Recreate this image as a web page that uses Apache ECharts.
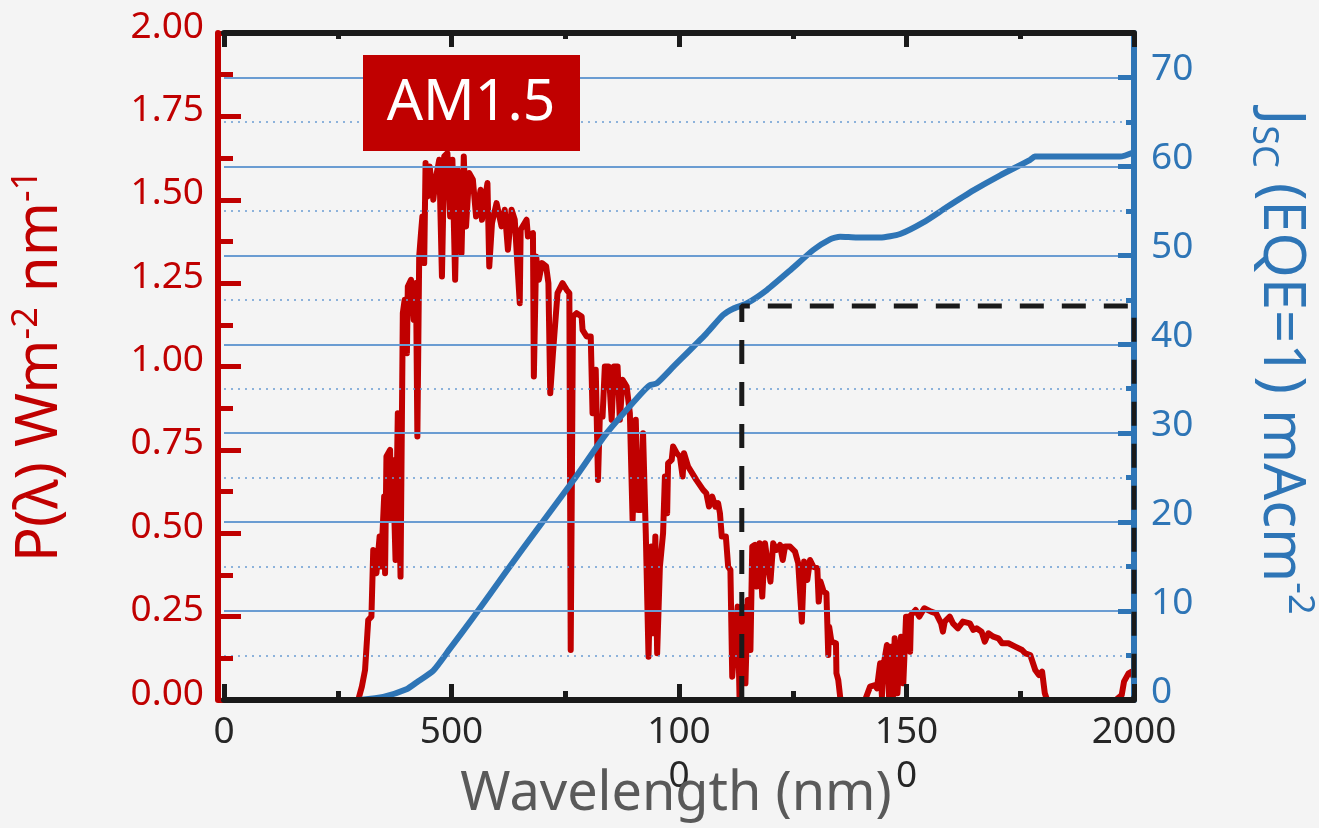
<!DOCTYPE html>
<html>
<head>
<meta charset="utf-8">
<script src="https://cdn.jsdelivr.net/npm/echarts@6/dist/echarts.min.js"></script>
<style>
  html, body { margin: 0; padding: 0; background: #f4f4f4; }
  #chart { width: 1319px; height: 828px; }
</style>
</head>
<body>
<div id="chart"></div>
<script>
// AM1.5 spectral irradiance P(λ)
const wavelength = [
  295, 303, 310, 317, 324, 328, 335, 342, 345, 352, 354, 357, 365, 368, 371, 377, 382, 388, 393, 397,
  402, 404, 411, 417, 422, 425, 429, 433, 436, 440, 443, 447, 452, 460, 465, 473, 479, 484, 491, 497,
  502, 508, 513, 517, 522, 527, 532, 539, 547, 554, 564, 567, 579, 583, 589, 599, 610, 617, 624, 632,
  639, 650, 652, 665, 668, 679, 681, 686, 692, 699, 708, 713, 717, 723, 733, 744, 753, 759, 762, 767,
  775, 786, 788, 797, 806, 810, 817, 822, 826, 832, 837, 845, 852, 857, 865, 870, 876, 885, 892, 898,
  905, 910, 916, 921, 927, 933, 939, 943, 948, 952, 958, 965, 969, 974, 976, 984, 987, 995, 1002, 1008,
  1011, 1020, 1038, 1053, 1060, 1066, 1073, 1080, 1086, 1090, 1094, 1103, 1108, 1113, 1117, 1124, 1129, 1133, 1139, 1146,
  1151, 1157, 1161, 1167, 1171, 1177, 1183, 1189, 1194, 1201, 1207, 1214, 1222, 1228, 1233, 1244, 1255, 1262, 1270, 1275,
  1282, 1288, 1295, 1304, 1307, 1311, 1318, 1324, 1328, 1330, 1335, 1345, 1346, 1350, 1355, 1409, 1420, 1431, 1435, 1442,
  1446, 1449, 1457, 1462, 1466, 1470, 1474, 1480, 1488, 1493, 1499, 1504, 1508, 1510, 1520, 1528, 1539, 1554, 1565, 1576,
  1580, 1584, 1595, 1602, 1613, 1624, 1639, 1647, 1654, 1665, 1672, 1680, 1691, 1702, 1710, 1724, 1739, 1754, 1761, 1772,
  1783, 1791, 1798, 1804, 1809, 1960, 1973, 1978, 1988, 1995, 2000
]
const irradiance = [
  0, 0.04, 0.09, 0.24, 0.25, 0.45, 0.38, 0.49, 0.40, 0.61, 0.38, 0.73, 0.75, 0.54, 0.72, 0.42, 0.86, 0.37, 1.16, 1.20,
  1.04, 1.24, 1.26, 1.14, 1.25, 0.79, 1.33, 1.40, 1.45, 1.31, 1.61, 1.51, 1.60, 1.50, 1.56, 1.62, 1.27, 1.63, 1.64, 1.45,
  1.62, 1.26, 1.59, 1.43, 1.34, 1.63, 1.42, 1.58, 1.56, 1.45, 1.53, 1.44, 1.55, 1.30, 1.43, 1.49, 1.42, 1.47, 1.35, 1.47,
  1.44, 1.19, 1.41, 1.44, 1.39, 1.40, 0.97, 1.33, 1.26, 1.31, 1.30, 1.25, 0.92, 1.04, 1.22, 1.25, 1.23, 1.22, 0.15, 1.15,
  1.16, 1.15, 1.11, 1.09, 1.09, 0.86, 0.99, 0.66, 0.85, 0.85, 1.00, 1.00, 0.84, 1.00, 1.00, 0.84, 0.96, 0.94, 0.86, 0.54,
  0.84, 0.57, 0.57, 0.80, 0.50, 0.13, 0.46, 0.20, 0.49, 0.14, 0.40, 0.50, 0.67, 0.56, 0.71, 0.72, 0.76, 0.74, 0.73, 0.67,
  0.74, 0.70, 0.66, 0.63, 0.62, 0.58, 0.61, 0.58, 0.59, 0.56, 0.49, 0.49, 0.40, 0.39, 0.07, 0.20, 0.28, 0.01, 0.28, 0.05,
  0.30, 0.15, 0.46, 0.465, 0.34, 0.47, 0.31, 0.47, 0.42, 0.355, 0.47, 0.45, 0.465, 0.42, 0.46, 0.46, 0.445, 0.41, 0.235, 0.415,
  0.36, 0.42, 0.40, 0.395, 0.295, 0.355, 0.325, 0.32, 0.135, 0.22, 0.175, 0.17, 0.08, 0.06, 0, 0, 0.04, 0.045, 0.035, 0.11,
  0.01, 0.10, 0.165, 0, 0.16, 0, 0.185, 0.02, 0.19, 0.05, 0.25, 0.25, 0.145, 0.255, 0.27, 0.25, 0.275, 0.265, 0.26, 0.23,
  0.205, 0.235, 0.25, 0.23, 0.215, 0.235, 0.23, 0.21, 0.215, 0.205, 0.175, 0.2, 0.19, 0.185, 0.17, 0.17, 0.16, 0.15, 0.14, 0.135,
  0.09, 0.075, 0.085, 0.02, 0, 0, 0.015, 0.055, 0.08, 0.085, 0.065
]

// integrated Jsc for EQE=1 (mA/cm2)
const jscWavelength = [299, 350, 401, 424, 460, 497, 548, 621, 694, 768, 841, 914, 936, 951, 987, 1060, 1097, 1119, 1149, 1193,
  1244, 1295, 1332, 1354, 1391, 1442, 1486, 1537, 1588, 1647, 1706, 1771, 1782, 1830, 1969, 2000]
const jscValues = [0, 0.35, 1.2, 2.0, 3.3, 5.8, 9.3, 14.5, 19.6, 24.7, 30.0, 34.3, 35.4, 35.6, 37.45, 41.2, 43.3, 44.0, 44.6, 46.1,
  48.3, 50.6, 51.8, 52.1, 52.0, 52.0, 52.4, 53.7, 55.4, 57.3, 59.0, 60.7, 61.1, 61.1, 61.1, 61.6]

// dashed box: Jsc available above the ~1130 nm edge
const boxWavelength = [1138, 1138, 2000, 2000, 1138]
const boxJsc = [0, 44.3, 44.3, 0, 0]

const xTicks = [0, 500, 1000, 1500, 2000]
const xTickLabels = ['0', '500', '100\n0', '150\n0', '2000']

const RED = '#C00000'
const BLUE = '#2E75B6'
const GRIDBLUE = '#6A9CD2'
const BLACK = '#1a1a1a'
const FONT = 'Noto Sans'

const chart = echarts.init(document.getElementById('chart'))

const xAxisBase = {
  type: 'value',
  min: 0,
  max: 2000,
  interval: 500,
  z: 5,
  splitLine: { show: false }
}

const option = {
  backgroundColor: '#F4F4F4',
  animation: false,
  grid: { left: 224, right: 185, top: 33, bottom: 128, outerBoundsMode: 'none' },
  xAxis: [
    {
      ...xAxisBase,
      position: 'bottom',
      axisLine: { show: true, onZero: false, lineStyle: { color: BLACK, width: 6 } },
      axisTick: { show: true, inside: true, length: 16, lineStyle: { color: BLACK, width: 5 } },
      minorTick: { show: true, splitNumber: 2, length: 9, lineStyle: { color: BLACK, width: 5 } },
      axisLabel: {
        margin: 10,
        fontFamily: FONT,
        fontSize: 37,
        lineHeight: 44,
        color: '#262626',
        formatter: v => xTickLabels[xTicks.indexOf(v)]
      }
    },
    {
      ...xAxisBase,
      position: 'top',
      axisLine: { show: true, onZero: false, lineStyle: { color: BLACK, width: 6 } },
      axisTick: { show: true, inside: true, length: 14, lineStyle: { color: BLACK, width: 5 } },
      minorTick: { show: true, splitNumber: 2, length: 6, lineStyle: { color: BLACK, width: 5 } },
      axisLabel: { show: false }
    }
  ],
  yAxis: [
    {
      type: 'value',
      position: 'left',
      offset: 6,
      min: 0,
      max: 2,
      interval: 0.25,
      z: 4,
      axisLine: { show: true, onZero: false, lineStyle: { color: RED, width: 6 } },
      axisTick: { show: true, inside: true, length: 23, lineStyle: { color: RED, width: 5 } },
      minorTick: { show: true, splitNumber: 2, length: 15, lineStyle: { color: RED, width: 5 } },
      splitLine: { show: false },
      axisLabel: {
        margin: 14,
        fontFamily: FONT,
        fontSize: 37,
        color: RED,
        verticalAlign: 'bottom',
        lineHeight: 12,
        formatter: v => v.toFixed(2)
      }
    },
    {
      type: 'value',
      position: 'right',
      min: 0,
      max: 75,
      interval: 10,
      z: 4,
      axisLine: { show: true, onZero: false, lineStyle: { color: BLUE, width: 6 } },
      axisTick: { show: true, inside: true, length: 16, lineStyle: { color: BLUE, width: 5 } },
      minorTick: { show: true, splitNumber: 2, length: 8, lineStyle: { color: BLUE, width: 5 } },
      splitLine: { show: true, lineStyle: { color: GRIDBLUE, width: 2 } },
      minorSplitLine: { show: true, lineStyle: { color: GRIDBLUE, width: 1.5, type: [2, 5] } },
      axisLabel: {
        margin: 17,
        fontFamily: FONT,
        fontSize: 37,
        color: BLUE,
        verticalAlign: 'bottom',
        lineHeight: 16,
        showMaxLabel: false
      }
    }
  ],
  series: [
    {
      name: 'AM1.5',
      type: 'line',
      xAxisIndex: 0,
      yAxisIndex: 0,
      data: wavelength.map((w, i) => [w, irradiance[i]]),
      symbol: 'none',
      clip: false,
      lineStyle: { color: RED, width: 6, join: 'round', cap: 'round' },
      itemStyle: { color: RED },
      z: 2
    },
    {
      name: 'Jsc',
      type: 'line',
      xAxisIndex: 0,
      yAxisIndex: 1,
      data: jscWavelength.map((w, i) => [w, jscValues[i]]),
      symbol: 'none',
      smooth: 0.2,
      clip: false,
      lineStyle: { color: BLUE, width: 6, join: 'round', cap: 'round' },
      itemStyle: { color: BLUE },
      z: 3
    },
    {
      name: 'box',
      type: 'line',
      xAxisIndex: 0,
      yAxisIndex: 1,
      data: boxWavelength.map((w, i) => [w, boxJsc[i]]),
      symbol: 'none',
      clip: false,
      lineStyle: { color: BLACK, width: 5, type: [24, 18] },
      itemStyle: { color: BLACK },
      z: 10
    }
  ],
  graphic: [
    {
      type: 'rect',
      z: 100,
      shape: { x: 363, y: 55, width: 217, height: 96 },
      style: { fill: RED }
    },
    {
      type: 'text',
      z: 101,
      x: 471,
      y: 104,
      style: { text: 'AM1.5', fill: '#ffffff', fontSize: 57, fontFamily: FONT, align: 'center', verticalAlign: 'middle' }
    },
    {
      type: 'text',
      z: 100,
      x: 40,
      y: 366,
      rotation: Math.PI / 2,
      style: {
        text: '{m|P(λ) Wm}{s|-2}{m| nm}{s|-1}',
        fill: RED,
        align: 'center',
        verticalAlign: 'middle',
        rich: {
          m: { fontSize: 58, fontFamily: FONT, fill: RED, lineHeight: 62 },
          s: { fontSize: 36, fontFamily: FONT, fill: RED, verticalAlign: 'top' }
        }
      }
    },
    {
      type: 'text',
      z: 100,
      x: 1281,
      y: 362,
      rotation: -Math.PI / 2,
      style: {
        text: '{m|J}{b|SC}{m| (EQE=1) mAcm}{s|-2}',
        fill: BLUE,
        align: 'center',
        verticalAlign: 'middle',
        rich: {
          m: { fontSize: 58, fontFamily: FONT, fill: BLUE, lineHeight: 72 },
          b: { fontSize: 36, fontFamily: FONT, fill: BLUE, verticalAlign: 'bottom' },
          s: { fontSize: 36, fontFamily: FONT, fill: BLUE, verticalAlign: 'top' }
        }
      }
    },
    {
      type: 'text',
      z: 100,
      x: 676,
      y: 795,
      style: { text: 'Wavelength (nm)', fill: '#595959', fontSize: 54, fontFamily: FONT, align: 'center', verticalAlign: 'middle' }
    }
  ]
}

chart.setOption(option)
window.addEventListener('resize', () => chart.resize())
</script>
</body>
</html>
